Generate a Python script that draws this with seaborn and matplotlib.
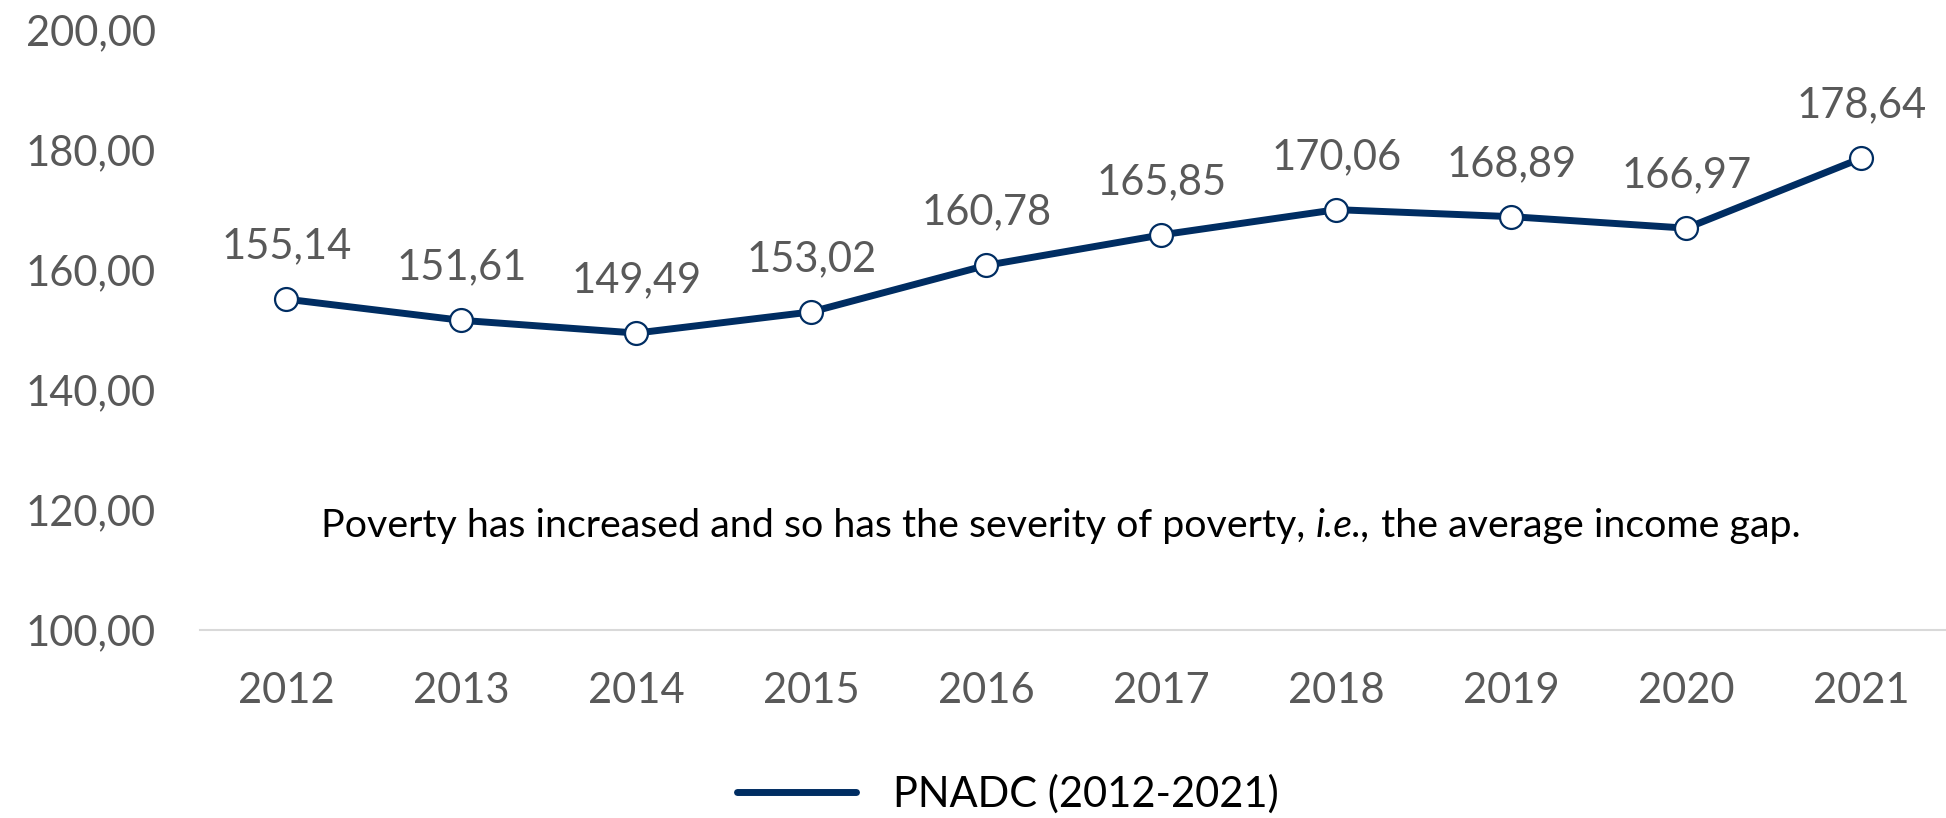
import matplotlib
matplotlib.use("Agg")
import matplotlib.pyplot as plt
import seaborn as sns
import pandas as pd
from matplotlib.lines import Line2D

years = ["2012", "2013", "2014", "2015", "2016", "2017", "2018", "2019", "2020", "2021"]
values = [155.14, 151.61, 149.49, 153.02, 160.78, 165.85, 170.06, 168.89, 166.97, 178.64]
yticks = [100, 120, 140, 160, 180, 200]
series_name = "PNADC (2012-2021)"
note_parts = [("Poverty has increased and so has the severity of poverty, ", "normal"),
              ("i.e.,", "italic"),
              (" the average income gap.", "normal")]

sns.set_theme(style="white")
plt.rcParams['font.family'] = ['Lato', 'DejaVu Sans']

navy = "#002D62"
gray = "#595959"

df = pd.DataFrame({"year": years, "value": values})
df["x"] = range(len(years))

fig = plt.figure(figsize=(19.46, 8.18), dpi=100)
ax = fig.add_axes([200/1946, (818-630)/818, 1 - 200/1946, 600/818])

sns.lineplot(data=df, x="x", y="value", ax=ax, color=navy, linewidth=5,
             marker="o", markersize=16.5, markerfacecolor="white",
             markeredgecolor=navy, markeredgewidth=1.6, legend=False)

for xi, v in zip(df["x"], values):
    ax.annotate(f"{v:.2f}".replace(".", ","), (xi, v), xytext=(0, 38),
                textcoords="offset points", ha="center", va="center",
                fontsize=30, color=gray)

ax.set_ylim(100, 200)
ax.set_xlim(-0.494, 9.483)
ax.set_yticks(yticks)
ax.set_yticklabels([f"{t:.2f}".replace(".", ",") for t in yticks])
ax.set_xticks(range(len(years)))
ax.set_xticklabels(years)
ax.tick_params(axis="both", length=0, labelsize=30, labelcolor=gray)
ax.tick_params(axis="y", pad=32)
ax.tick_params(axis="x", pad=30)
for s in ["top", "right", "left"]:
    ax.spines[s].set_visible(False)
ax.spines["bottom"].set_color("#D9D9D9")
ax.spines["bottom"].set_linewidth(1.5)
ax.set_xlabel("")
ax.set_ylabel("")
ax.grid(False)

# note text, built from chained pieces so "i.e.," can be italic
fig.canvas.draw()
r = fig.canvas.get_renderer()


def place_note(fs):
    prev = ax.text(0, 0.155, note_parts[0][0], transform=ax.transAxes, ha="left",
                   va="baseline", fontsize=fs, color="black", style=note_parts[0][1])
    pieces = [prev]
    for txt, st in note_parts[1:]:
        prev = ax.annotate(txt, xy=(1, 0), xycoords=prev, xytext=(0, 0),
                           textcoords="offset points", ha="left", va="bottom",
                           fontsize=fs, color="black", style=st)
        pieces.append(prev)
    fig.canvas.draw()
    w = pieces[-1].get_window_extent(r).x1 - pieces[0].get_window_extent(r).x0
    return pieces, w


target_width = 1482
pieces, w = place_note(25)
fs = 25 * target_width / w
for p in pieces:
    p.remove()
pieces, w = place_note(fs)
center_px = 1061
ax_bbox = ax.get_window_extent(r)
pieces[0].set_x((center_px - w / 2 - ax_bbox.x0) / ax_bbox.width)

handle = Line2D([], [], color=navy, linewidth=5)
fig.legend([handle], [series_name], loc="center", bbox_to_anchor=(1008/1946, 1 - 794/818),
           frameon=False, fontsize=30, handlelength=2.85, handletextpad=0.9,
           labelcolor="black")

fig.savefig("out.png", dpi=100)
